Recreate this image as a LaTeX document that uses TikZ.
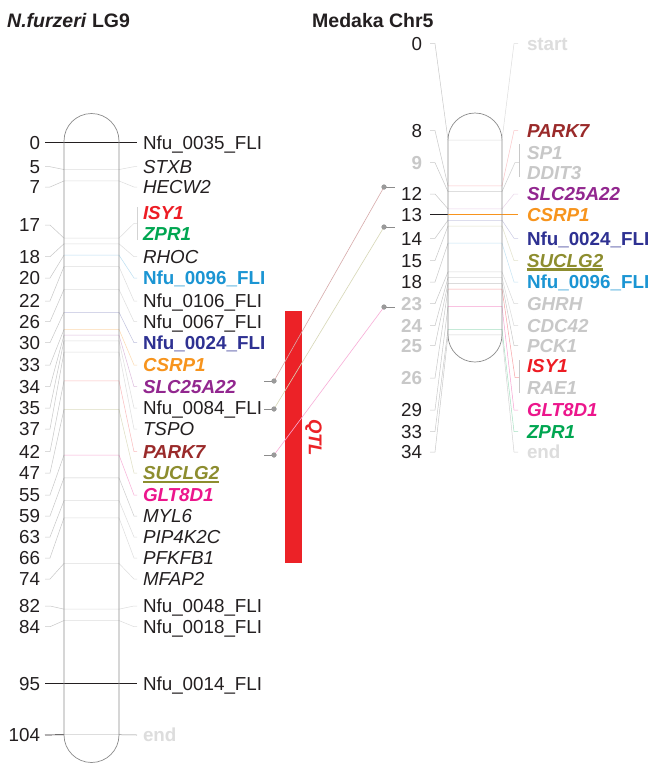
\documentclass[tikz,border=0pt]{standalone}
\usepackage{fontspec}
\setmainfont{Liberation Sans}
\usetikzlibrary{calc}

\definecolor{ink}{HTML}{231F20}
\definecolor{cIsy}{HTML}{ED1C24}
\definecolor{cZpr}{HTML}{00A651}
\definecolor{cBlue}{HTML}{1B95D3}
\definecolor{cNavy}{HTML}{2E3192}
\definecolor{cCsrp}{HTML}{F7941D}
\definecolor{cSlc}{HTML}{92278F}
\definecolor{cPark}{HTML}{9A2A2A}
\definecolor{cSuclg}{HTML}{8D8D2F}
\definecolor{cGlt}{HTML}{EC168C}
\definecolor{cGrey}{HTML}{C8C8C8}
\definecolor{cFaint}{HTML}{DDDDDD}
\definecolor{cChrom}{HTML}{8C8C8C}
\definecolor{cQtl}{HTML}{EC2227}
\definecolor{cDot}{HTML}{9A9A9A}

\newcommand\lblfont{\fontsize{18.8}{20}\selectfont}

\tikzset{
  txt/.style={inner sep=0pt, outer sep=0pt, font=\lblfont, text height=13.5pt, text depth=0pt, text=ink},
  num/.style={txt, anchor=east},
  tag/.style={txt, anchor=west},
  nK/.style={},
  nG/.style={font=\lblfont\bfseries, text=cGrey},
  plainS/.style={},
  italS/.style={font=\lblfont\itshape},
  hiS/.style={font=\lblfont\bfseries\itshape, text=#1},
  hiupS/.style={font=\lblfont\bfseries, text=#1},
  isyS/.style={hiS=cIsy},
  zprS/.style={hiS=cZpr},
  blueS/.style={hiupS=cBlue},
  navyS/.style={hiupS=cNavy},
  csrpS/.style={hiS=cCsrp},
  slcS/.style={hiS=cSlc},
  parkS/.style={hiS=cPark},
  suclgS/.style={hiS=cSuclg},
  gltS/.style={hiS=cGlt},
  greyS/.style={hiS=cGrey},
  faintS/.style={hiupS=cFaint},
  fan/.style={draw=#1, line width=0.5pt},
  fan/.default=cGrey,
  chrom/.style={draw=cChrom, line width=0.7pt},
  dotnode/.style={circle, fill=cDot, inner sep=0pt, minimum size=5pt},
  homstub/.style={draw=cChrom, line width=0.6pt},
  hom/.style={draw=#1, line width=0.6pt},
  title/.style={inner sep=0pt, anchor=base west, font=\fontsize{19.5}{22}\selectfont\bfseries, text=ink},
}

\begin{document}
\begin{tikzpicture}[x=1pt,y=-1pt]
\useasboundingbox (0,0) rectangle (652,763);
\fill[white] (0,0) rectangle (652,763);

% ---------- titles ----------
\node[title] (titleL) at (7,27) {\textit{N.furzeri} LG9};
\node[title] (titleR) at (312,27) {Medaka Chr5};

% ---------- N. furzeri LG9 markers ----------
\foreach \id/\cm/\ly/\txt/\sty/\col in {
  b/5/166.7/STXB/italS/cGrey!60,
  c/7/187/HECW2/italS/cGrey!60,
  d/18/256.7/RHOC/italS/cGrey!60,
  e/20/278/{Nfu\_0096\_FLI}/blueS/cBlue!30,
  f/22/301/{Nfu\_0106\_FLI}/plainS/cGrey!60,
  g/26/321.7/{Nfu\_0067\_FLI}/plainS/cGrey!60,
  h/30/342.7/{Nfu\_0024\_FLI}/navyS/cNavy!30,
  i/33/365/CSRP1/csrpS/cCsrp!35,
  j/34/386.7/SLC25A22/slcS/cSlc!30,
  k/35/408/{Nfu\_0084\_FLI}/plainS/cGrey!60,
  l/37/429/TSPO/italS/cGrey!60,
  m/42/451.7/PARK7/parkS/cIsy!30,
  n/47/473/SUCLG2/suclgS/cSuclg!30,
  o/55/495/GLT8D1/gltS/cGlt!35,
  p/59/516/MYL6/italS/cGrey!90,
  q/63/537/PIP4K2C/italS/cGrey!60,
  r/66/558/PFKFB1/italS/cGrey!60,
  s/74/579/MFAP2/italS/cGrey!60,
  t/82/606/{Nfu\_0048\_FLI}/plainS/cGrey!60,
  u/84/626.7/{Nfu\_0018\_FLI}/plainS/cGrey!60}
{
  \pgfmathsetmacro\py{141+5.709*\cm}
  \node[num] (ln\id) at (40,\ly) {\cm};
  \node[tag,\sty] (lt\id) at (143,\ly) {\txt};
  \coordinate (lpa\id) at (64,\py);
  \coordinate (lpb\id) at (119,\py);
  \draw[fan] ([xshift=5pt]ln\id.east) -- ++(5,0) -- (lpa\id);
  \draw[fan=\col] (lpa\id) -- (lpb\id) -- ([xshift=-9pt]lt\id.west) -- ([xshift=-6pt]lt\id.west);
}

% first and last framework markers, drawn solid
\node[num] (lna) at (40,142.5) {0};
\node[tag] (lta) at (143,142.5) {Nfu\_0035\_FLI};
\draw[ink, line width=0.7pt] ([xshift=5pt]lna.east) -- ([xshift=-6pt]lta.west);

\node[num] (lnv) at (40,683.5) {95};
\node[tag] (ltv) at (143,683.5) {Nfu\_0014\_FLI};
\draw[ink, line width=0.7pt] ([xshift=5pt]lnv.east) -- ([xshift=-6pt]ltv.west);

\node[num] (lnw) at (40,735) {104};
\node[tag,faintS] (ltw) at (143,735) {end};
\coordinate (lpaw) at (64,734.7);
\coordinate (lpbw) at (119,734.7);
\draw[ink, line width=0.7pt] ([xshift=5pt]lnw.east) -- (lpaw);
\draw[fan=cFaint] (lpaw) -- (lpbw);
\draw[fan=cChrom] (lpbw) -- ([xshift=-6pt]ltw.west);

% ISY1 / ZPR1 share one position
\node[num] (ln17) at (40,225) {17};
\node[tag,isyS] (ltisy) at (143,212.7) {ISY1};
\node[tag,zprS] (ltzpr) at (143,234) {ZPR1};
\coordinate (lpa17) at (64,238.1);
\coordinate (lpb17) at (119,238.1);
\coordinate (lbr17) at (137,223.4);
\draw[fan] ([xshift=5pt]ln17.east) -- ++(5,0) -- (lpa17);
\draw[fan=cGrey!60] (lpa17) -- (lpb17) -- ([xshift=-3pt]lbr17) -- (lbr17);
\draw[fan=cGrey!80] ([xshift=-6pt,yshift=5.5pt]ltisy.west) -- ([xshift=-6pt,yshift=-6pt]ltzpr.west);

% underline of SUCLG2
\fill[cSuclg] ([yshift=-7.5pt]ltn.west) rectangle ([yshift=-10.2pt]ltn.east);

% chromosome outline
\draw[chrom] (64,141) -- (64,735) arc[start angle=180, end angle=0, radius=27.5]
  -- (119,141) arc[start angle=0, end angle=-180, radius=27.5] -- cycle;

% ---------- QTL interval ----------
\node[fill=cQtl, inner sep=0pt, minimum width=17pt, minimum height=252pt] (qtlbar) at (293.5,437) {};
\node[inner sep=0pt, rotate=-90, font=\fontsize{18.5}{20}\selectfont\bfseries\itshape, text=cQtl] (qtllbl) at (313.5,437.5) {QTL};

% ---------- Medaka Chr5 markers ----------
\foreach \id/\v/\ly/\txt/\sty/\col/\nst in {
  a/0/43.5/start/faintS/cFaint/nK,
  b/8/130.5/PARK7/parkS/cIsy!25/nK,
  c/12/194/SLC25A22/slcS/cSlc!20/nK,
  e/14/238.3/{Nfu\_0024\_FLI}/navyS/cNavy!25/nK,
  f/15/260.5/SUCLG2/suclgS/cSuclg!25/nK,
  g/18/282/{Nfu\_0096\_FLI}/blueS/cBlue!25/nK,
  h/23/303.7/GHRH/greyS/cGrey!70/nG,
  i/24/325.7/CDC42/greyS/cGrey!70/nG,
  j/25/345.5/PCK1/greyS/cGrey/nG,
  k/29/410/GLT8D1/gltS/cGlt!40/nK,
  l/33/431.5/ZPR1/zprS/cZpr!35/nK,
  m/34/452/end/faintS/cGrey!80/nK}
{
  \pgfmathsetmacro\py{140+5.735*\v}
  \node[num,\nst] (rn\id) at (422,\ly) {\v};
  \node[tag,\sty] (rt\id) at (527,\ly) {\txt};
  \coordinate (rpa\id) at (448,\py);
  \coordinate (rpb\id) at (502,\py);
  \draw[fan] ([xshift=8pt]rn\id.east) -- ++(5,0) -- (rpa\id);
  \draw[fan=\col] (rpa\id) -- (rpb\id) -- ([xshift=-13pt]rt\id.west) -- ([xshift=-9pt]rt\id.west);
}

% CSRP1, the anchor marker
\node[num] (rnd) at (422,214.5) {13};
\node[tag,csrpS] (rtd) at (527,214.5) {CSRP1};
\coordinate (rpad) at (448,214.5);
\draw[ink, line width=0.7pt] ([xshift=8pt]rnd.east) -- (rpad);
\draw[cCsrp, line width=0.8pt] (rpad) -- ([xshift=-9pt]rtd.west);

% SP1 / DDIT3 share one position
\node[num,nG] (rn9) at (422,162.7) {9};
\node[tag,greyS] (rtsp) at (527,152.7) {SP1};
\node[tag,greyS] (rtdd) at (527,172.3) {DDIT3};
\coordinate (rpa9) at (448,191.6);
\coordinate (rpb9) at (502,191.6);
\coordinate (rbr9) at (519,162.5);
\draw[fan] ([xshift=8pt]rn9.east) -- ++(5,0) -- (rpa9);
\draw[fan=cGrey!90] (rpa9) -- (rpb9) -- ([xshift=-4pt]rbr9) -- (rbr9);
\draw[fan=cGrey] ([xshift=-8pt,yshift=8.7pt]rtsp.west) -- ([xshift=-8pt,yshift=-4.7pt]rtdd.west);

% ISY1 / RAE1 share one position
\node[num,nG] (rn26) at (422,378) {26};
\node[tag,isyS] (rtisy) at (527,366) {ISY1};
\node[tag,greyS] (rtrae) at (527,388) {RAE1};
\coordinate (rpa26) at (448,289.1);
\coordinate (rpb26) at (502,289.1);
\coordinate (rbr26) at (519,377.5);
\draw[fan] ([xshift=8pt]rn26.east) -- ++(5,0) -- (rpa26);
\draw[fan=cIsy!40] (rpa26) -- (rpb26) -- ([xshift=-4pt]rbr26) -- (rbr26);
\draw[fan=cGrey] ([xshift=-8pt,yshift=6pt]rtisy.west) -- ([xshift=-8pt,yshift=-5pt]rtrae.west);

% underline of SUCLG2
\fill[cSuclg] ([yshift=-7.3pt]rtf.west) rectangle ([yshift=-10pt]rtf.east);

% chromosome outline
\draw[chrom] (448,140) -- (448,335) arc[start angle=180, end angle=0, radius=27]
  -- (502,140) arc[start angle=0, end angle=-180, radius=27] -- cycle;

% ---------- homologous pairs ----------
\coordinate (sl1) at (264,381);
\coordinate (sl2) at (264,409);
\coordinate (sl3) at (264,455);
\coordinate (sr1) at (395,187);
\coordinate (sr2) at (395,227);
\coordinate (sr3) at (395,307);
\node[dotnode] (hl1) at (274,381) {};
\node[dotnode] (hl2) at (274,409) {};
\node[dotnode] (hl3) at (274,455) {};
\node[dotnode] (hr1) at (384,187) {};
\node[dotnode] (hr2) at (384,227) {};
\node[dotnode] (hr3) at (384,307) {};
\draw[hom=cPark!40] (hl1.center) -- (hr1.center);
\draw[hom=cSuclg!35] (hl2.center) -- (hr2.center);
\draw[hom=cGlt!35] (hl3.center) -- (hr3.center);
\foreach \k in {1,2,3} {
  \draw[homstub] (sl\k) -- (hl\k.center);
  \draw[homstub] (hr\k.center) -- (sr\k);
  \node[dotnode] at (hl\k) {};
  \node[dotnode] at (hr\k) {};
}
\end{tikzpicture}
\end{document}
